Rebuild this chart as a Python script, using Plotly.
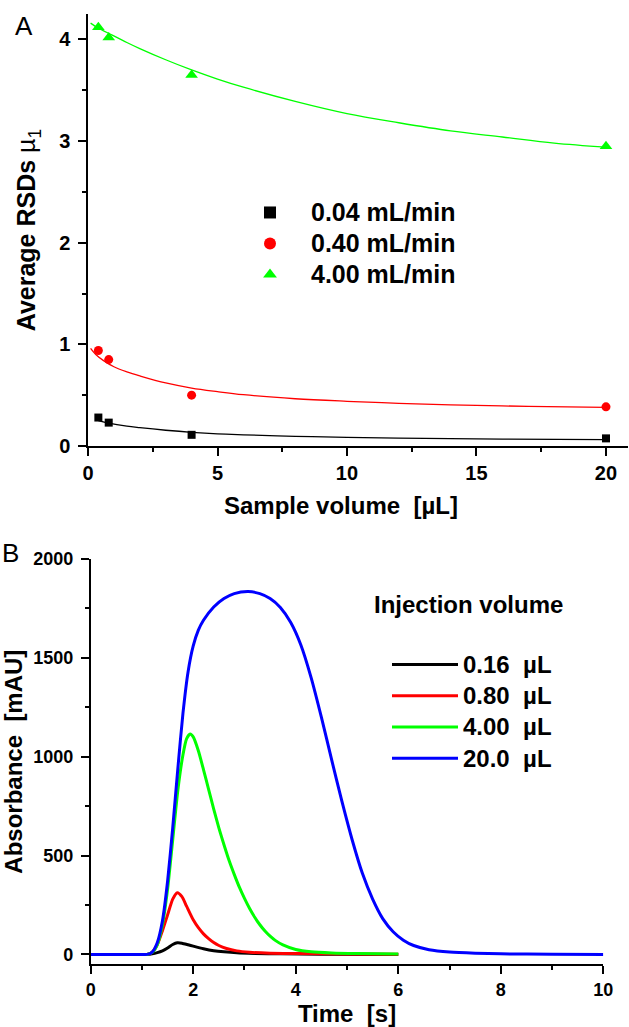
import plotly.graph_objects as go

F = "Liberation Sans, Arial, sans-serif"
W, H = 629, 1027

# ---------------- Panel A data ----------------
vol = [0.4, 0.8, 4.0, 20.0]
rsd_004 = [0.28, 0.23, 0.11, 0.075]
rsd_040 = [0.94, 0.85, 0.50, 0.385]
rsd_400 = [4.12, 4.02, 3.65, 2.95]
names_A = ["0.04 mL/min", "0.40 mL/min", "4.00 mL/min"]

# fitted curves
fit_x_004 = [0.4, 0.8, 1.5, 2.0, 3.0, 4.0, 5.0, 6.0, 8.0, 10.0, 13.0, 16.0, 20.0]
fit_y_004 = [0.25, 0.225, 0.195, 0.18, 0.155, 0.135, 0.12, 0.11, 0.095, 0.085, 0.075, 0.068, 0.062]
fit_x_040 = [0.1, 0.3, 0.6, 1.0, 1.5, 2.0, 3.0, 4.0, 5.0, 6.0, 8.0, 10.0, 12.0, 14.0, 17.0, 20.0]
fit_y_040 = [0.96, 0.90, 0.84, 0.78, 0.73, 0.69, 0.62, 0.57, 0.535, 0.505, 0.465, 0.44, 0.42, 0.405, 0.39, 0.38]
fit_x_400 = [0.1, 0.4, 0.8, 1.5, 2.0, 3.0, 4.0, 5.0, 6.0, 8.0, 10.0, 12.0, 14.0, 16.0, 18.0, 20.0]
fit_y_400 = [4.16, 4.11, 4.06, 3.97, 3.91, 3.80, 3.70, 3.61, 3.53, 3.39, 3.27, 3.18, 3.10, 3.04, 2.98, 2.94]

# ---------------- Panel B data ----------------
names_B = ["0.16\u00a0 µL", "0.80\u00a0 µL", "4.00\u00a0 µL", "20.0\u00a0 µL"]
t_016 = [0, 1.0, 1.1, 1.2, 1.3, 1.4, 1.5, 1.6, 1.69, 1.78, 1.9, 2.0, 2.2, 2.4, 2.6, 2.85, 3.2, 3.7, 4.5, 6.0]
a_016 = [0, 0, 0, 3, 9, 18, 32, 50, 59, 57, 49, 42, 29, 19, 13, 8, 5, 3, 1, 0]
t_080 = [0, 1.0, 1.1, 1.2, 1.3, 1.4, 1.5, 1.6, 1.69, 1.78, 1.87, 2.0, 2.1, 2.2, 2.3, 2.4, 2.5, 2.65, 2.85, 3.1, 3.5, 4.0, 5.0, 6.0]
a_080 = [0, 0, 0, 12, 50, 120, 200, 280, 312, 292, 244, 175, 135, 104, 80, 60, 45, 30, 18, 11, 6, 4, 2, 1]
t_400 = [0, 1.0, 1.1, 1.2, 1.3, 1.4, 1.5, 1.6, 1.7, 1.8, 1.87, 1.94, 2.0, 2.1, 2.2, 2.3, 2.4, 2.5, 2.6, 2.7, 2.8, 2.9, 3.0, 3.1, 3.2, 3.3, 3.4, 3.5, 3.6, 3.75, 4.0, 4.3, 4.7, 5.2, 6.0]
a_400 = [0, 0, 0, 10, 50, 150, 330, 580, 830, 1010, 1090, 1115, 1100, 1030, 935, 835, 735, 640, 555, 475, 405, 340, 283, 232, 188, 150, 118, 92, 71, 48, 25, 13, 7, 4, 2]
t_200 = [0, 1.0, 1.1, 1.2, 1.3, 1.4, 1.5, 1.6, 1.7, 1.8, 1.9, 2.0, 2.1, 2.2, 2.4, 2.6, 2.8, 3.07, 3.3, 3.5, 3.7, 3.9, 4.1, 4.3, 4.5, 4.7, 4.9, 5.1, 5.3, 5.5, 5.7, 5.9, 6.1, 6.3, 6.6, 7.0, 7.5, 8.0, 9.0, 10.0]
a_200 = [0, 0, 0, 12, 60, 170, 370, 640, 940, 1220, 1430, 1560, 1640, 1690, 1757, 1800, 1825, 1835, 1825, 1800, 1755, 1680, 1565, 1400, 1200, 985, 775, 580, 410, 280, 180, 115, 72, 45, 24, 12, 6, 3, 1, 0]

cols = ["#000000", "#ff0000", "#00ff00", "#0000ff"]

fig = go.Figure()

# Panel A fitted lines
for fx, fy, c in [(fit_x_004, fit_y_004, cols[0]), (fit_x_040, fit_y_040, cols[1]), (fit_x_400, fit_y_400, cols[2])]:
    fig.add_trace(go.Scatter(x=fx, y=fy, mode="lines", line=dict(color=c, width=1.3, shape="spline", smoothing=1.0),
                             showlegend=False, hoverinfo="skip", xaxis="x", yaxis="y"))
# Panel A points
for ys, c, sym, sz, nm in [(rsd_004, cols[0], "square", 8, names_A[0]),
                           (rsd_040, cols[1], "circle", 9, names_A[1]),
                           (rsd_400, cols[2], "triangle-up", 11, names_A[2])]:
    fig.add_trace(go.Scatter(x=vol, y=ys, mode="markers",
                             name='<span style="font-size:25px">' + nm + "</span>",
                             marker=dict(color=c, symbol=sym, size=sz, line=dict(width=0)),
                             xaxis="x", yaxis="y", legend="legend"))

# Panel B curves
for tt, aa, c, nm in [(t_016, a_016, cols[0], names_B[0]), (t_080, a_080, cols[1], names_B[1]),
                      (t_400, a_400, cols[2], names_B[2]), (t_200, a_200, cols[3], names_B[3])]:
    fig.add_trace(go.Scatter(x=tt, y=aa, mode="lines",
                             name='<span style="font-size:24px">' + nm + "</span>",
                             line=dict(color=c, width=3, shape="spline", smoothing=0.6),
                             xaxis="x2", yaxis="y2", legend="legend2"))

def ax(**kw):
    d = dict(showline=True, linecolor="black", linewidth=1.5, ticks="outside", ticklen=8, tickwidth=1.5,
             tickcolor="black", showgrid=False, zeroline=False, automargin=False,
             tickfont=dict(family=F, size=20, color="black", weight="bold"))
    d.update(kw)
    return d

fig.update_layout(
    width=W, height=H, margin=dict(l=0, r=0, t=0, b=0),
    paper_bgcolor="white", plot_bgcolor="white",
    font=dict(family=F, color="black"),
    xaxis=ax(domain=[88 / W, 628 / W], range=[0, 20.85], dtick=5, anchor="y",
             minor=dict(ticks="outside", ticklen=4, tickwidth=1.5, dtick=2.5, tickcolor="black")),
    yaxis=ax(domain=[1 - 446 / H, 1 - 14 / H], range=[0, 4.25], dtick=1, anchor="x", ticklabelstandoff=4,
             minor=dict(ticks="outside", ticklen=4, tickwidth=1.5, dtick=0.5, tickcolor="black"),
             title=dict(text="<b>Average RSDs</b> µ<sub>1</sub>", font=dict(family=F, size=25), standoff=16)),
    xaxis2=ax(domain=[90.7 / W, 603.3 / W], range=[0, 10], dtick=2, anchor="y2",
              tickfont=dict(family=F, size=18, color="black", weight="bold"),
              minor=dict(ticks="outside", ticklen=4, tickwidth=1.5, dtick=1, tickcolor="black"),
              title=dict(text="Time\u00a0 [s]", font=dict(family=F, size=24, weight="bold"), standoff=4)),
    yaxis2=ax(domain=[1 - 964.3 / H, 1 - 559 / H], range=[-50, 2000], tickvals=[0, 500, 1000, 1500, 2000],
              anchor="x2", ticklabelstandoff=4,
              tickfont=dict(family=F, size=18, color="black", weight="bold"),
              minor=dict(ticks="outside", ticklen=4, tickwidth=1.5, tickvals=[250, 750, 1250, 1750], tickcolor="black"),
              title=dict(text="Absorbance\u00a0 [mAU]", font=dict(family=F, size=24, weight="bold"), standoff=16)),
    legend=dict(x=229 / W, y=1 - 192 / H, xanchor="left", yanchor="top", bgcolor="rgba(0,0,0,0)",
                itemwidth=72, itemsizing="constant",
                font=dict(family=F, size=21.5, color="black", weight="bold"), tracegroupgap=0),
    legend2=dict(x=387 / W, y=1 - 644 / H, xanchor="left", yanchor="top", bgcolor="rgba(0,0,0,0)",
                 itemwidth=66, font=dict(family=F, size=21.7, color="black", weight="bold"), tracegroupgap=0),
    annotations=[
        dict(text="A", x=24 / W, y=1 - 26 / H, xref="paper", yref="paper", showarrow=False,
             xanchor="center", yanchor="middle", font=dict(family=F, size=26, color="black")),
        dict(text="B", x=10 / W, y=1 - 553 / H, xref="paper", yref="paper", showarrow=False,
             xanchor="center", yanchor="middle", font=dict(family=F, size=26, color="black")),
        dict(text="Sample volume\u00a0 [µL]", x=341 / W, y=1 - 505 / H, xref="paper", yref="paper",
             showarrow=False, xanchor="center", yanchor="middle",
             font=dict(family=F, size=24, color="black", weight="bold")),
        dict(text="Injection volume", x=468.5 / W, y=1 - 604 / H, xref="paper", yref="paper", showarrow=False,
             xanchor="center", yanchor="middle", font=dict(family=F, size=24, color="black", weight="bold")),
    ],
)

fig.write_html("out.html", config={"displayModeBar": False},
               post_script="document.body.style.margin='0px';document.body.style.overflow='hidden';")
